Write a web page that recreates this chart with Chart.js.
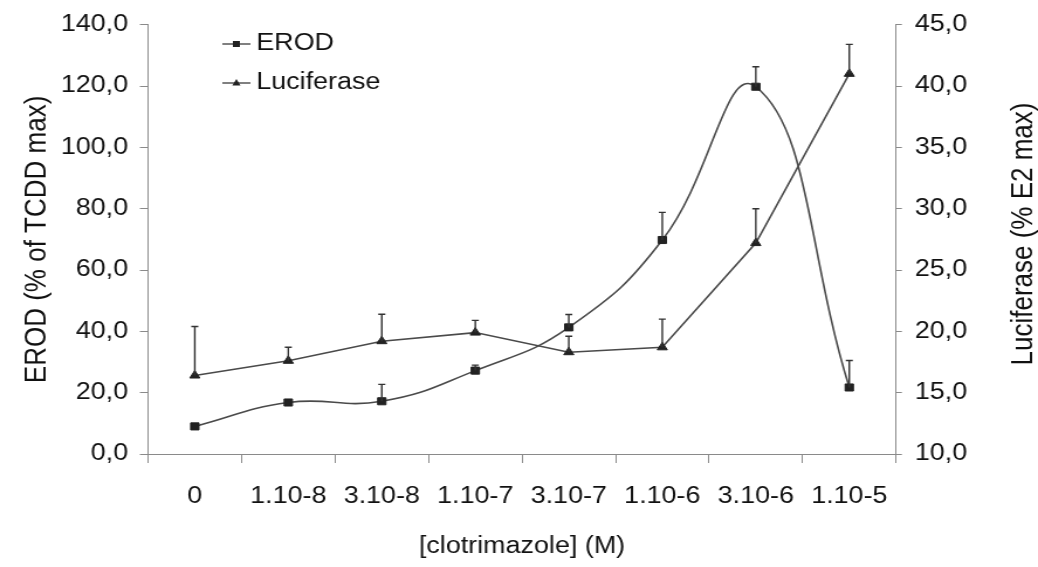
<!DOCTYPE html>
<html>
<head>
<meta charset="utf-8">
<script src="https://cdn.jsdelivr.net/npm/chart.js@4.4.0/dist/chart.umd.min.js"></script>
<style>
  html, body { margin: 0; padding: 0; background: #fff; }
  #chart { display: block; }
</style>
</head>
<body>
<!-- drawn 887 px wide and widened by CSS, giving the wide lettering -->
<canvas id="chart" width="887" height="567" style="width:1038px;height:567px"></canvas>
<script>
const concentrations = ["0", "1.10-8", "3.10-8", "1.10-7", "3.10-7", "1.10-6", "3.10-6", "1.10-5"];
const erod = [9.0, 16.8, 17.2, 27.2, 41.3, 69.8, 119.8, 21.7];
const erodErr = [null, null, 5.5, 1.8, 4.2, 9.0, 6.5, 8.8];
const luciferase = [16.4, 17.6, 19.2, 19.9, 18.3, 18.7, 27.2, 41.0];
const luciferaseErr = [4.0, 1.1, 2.2, 1.0, 1.3, 2.3, 2.8, 2.4];
const erodTicks = [0, 20, 40, 60, 80, 100, 120, 140];
const luciferaseTicks = [10, 15, 20, 25, 30, 35, 40, 45];

const FONT = '"Liberation Sans", Arial, sans-serif';
const INK = "#111111";
const LINE = "#4a4a4a";
const MARK = "#222222";
const AXIS = "#8a8a8a";

const fmt = (v) => v.toFixed(1).replace(".", ",");

// upper error bars with a short cap
const errorBars = {
  id: "errorBars",
  afterDatasetsDraw(chart) {
    const { ctx } = chart;
    chart.data.datasets.forEach((ds, i) => {
      const meta = chart.getDatasetMeta(i);
      const scale = chart.scales[ds.yAxisID];
      ctx.save();
      ctx.strokeStyle = "#333";
      ctx.lineWidth = 1.4;
      meta.data.forEach((pt, j) => {
        const err = ds.errors[j];
        if (!err) return;
        const top = scale.getPixelForValue(ds.data[j] + err);
        ctx.beginPath();
        ctx.moveTo(pt.x, pt.y);
        ctx.lineTo(pt.x, top);
        ctx.moveTo(pt.x - 3, top);
        ctx.lineTo(pt.x + 3, top);
        ctx.stroke();
      });
      ctx.restore();
    });
  },
};

// legend in the top-left of the plot: line sample with marker, then label
const legendBox = {
  id: "legendBox",
  afterDraw(chart) {
    const { ctx } = chart;
    ctx.save();
    chart.data.datasets.forEach((ds, i) => {
      const y = 44 + i * 39;
      const x0 = 190, x1 = 214, cx = 202;
      ctx.strokeStyle = LINE;
      ctx.lineWidth = 1.4;
      ctx.beginPath();
      ctx.moveTo(x0, y);
      ctx.lineTo(x1, y);
      ctx.stroke();
      ctx.fillStyle = MARK;
      ctx.beginPath();
      if (ds.pointStyle === "rect") {
        ctx.rect(cx - 3, y - 3, 6, 6);
      } else {
        ctx.moveTo(cx, y - 4);
        ctx.lineTo(cx + 3.5, y + 2.5);
        ctx.lineTo(cx - 3.5, y + 2.5);
        ctx.closePath();
      }
      ctx.fill();
      ctx.fillStyle = INK;
      ctx.font = `23px ${FONT}`;
      ctx.textBaseline = "middle";
      ctx.textAlign = "left";
      ctx.fillText(ds.label, 219, y);
    });
    ctx.restore();
  },
};

// right-hand axis title, reading bottom to top like the left one
const rightTitle = {
  id: "rightTitle",
  afterDraw(chart) {
    const { ctx } = chart;
    const s = chart.scales.y2;
    ctx.save();
    ctx.translate(s.right - 12, 234);
    ctx.rotate(-Math.PI / 2);
    ctx.fillStyle = INK;
    ctx.font = `26px ${FONT}`;
    ctx.textAlign = "center";
    ctx.textBaseline = "middle";
    ctx.fillText("Luciferase (% E2 max)", 0, 0);
    ctx.restore();
  },
};

const tickFont = { family: FONT, size: 23 };

new Chart(document.getElementById("chart"), {
  type: "line",
  data: {
    labels: concentrations,
    datasets: [
      {
        label: "EROD",
        data: erod,
        errors: erodErr,
        yAxisID: "y",
        borderColor: LINE,
        borderWidth: 1.6,
        tension: 0.45,
        pointStyle: "rect",
        pointRadius: 5,
        pointBackgroundColor: MARK,
        pointBorderColor: MARK,
        pointBorderWidth: 1,
      },
      {
        label: "Luciferase",
        data: luciferase,
        errors: luciferaseErr,
        yAxisID: "y2",
        borderColor: LINE,
        borderWidth: 1.6,
        tension: 0,
        pointStyle: "triangle",
        pointRadius: 5,
        pointBackgroundColor: MARK,
        pointBorderColor: MARK,
        pointBorderWidth: 1,
      },
    ],
  },
  options: {
    responsive: false,
    animation: false,
    devicePixelRatio: 1,
    layout: { padding: { top: 23, left: 0, right: 0, bottom: 0 } },
    plugins: {
      legend: { display: false },
      tooltip: { enabled: false },
    },
    scales: {
      x: {
        offset: true,
        grid: { drawOnChartArea: false, offset: true, tickLength: 9, color: AXIS },
        border: { color: AXIS },
        ticks: { padding: 20, color: INK, font: tickFont, maxRotation: 0, autoSkip: false },
        title: {
          display: true,
          text: "[clotrimazole] (M)",
          color: INK,
          font: tickFont,
          padding: { top: 0, bottom: 7 },
        },
        afterFit: (s) => { s.height = 113; },
      },
      y: {
        position: "left",
        min: 0,
        max: 140,
        afterBuildTicks: (s) => { s.ticks = erodTicks.map((v) => ({ value: v })); },
        grid: { drawOnChartArea: false, tickLength: 7, color: AXIS },
        border: { color: AXIS },
        ticks: { padding: 10, color: INK, font: tickFont, callback: fmt },
        title: {
          display: true,
          text: "EROD (% of TCDD max)",
          color: INK,
          font: { family: FONT, size: 26, lineHeight: 1 },
          padding: { top: 18.6, bottom: 0 },
        },
        afterFit: (s) => { s.width = 126.5; },
      },
      y2: {
        position: "right",
        min: 10,
        max: 45,
        afterBuildTicks: (s) => { s.ticks = luciferaseTicks.map((v) => ({ value: v })); },
        grid: { drawOnChartArea: false, tickLength: 5, color: AXIS },
        border: { color: AXIS },
        ticks: { padding: 11, color: INK, font: tickFont, callback: fmt },
        afterFit: (s) => { s.width = 121.3; },
      },
    },
  },
  plugins: [errorBars, legendBox, rightTitle],
});
</script>
</body>
</html>
